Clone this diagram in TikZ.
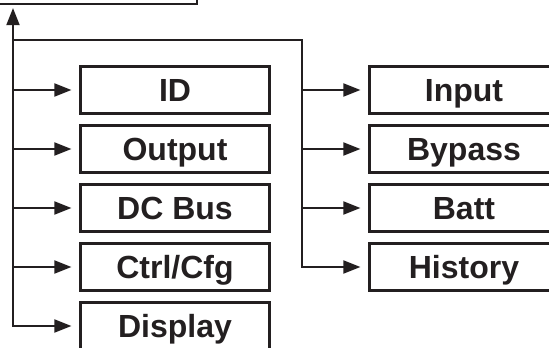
\documentclass[tikz,border=0pt]{standalone}
\usepackage{fontspec}
\setmainfont{Liberation Sans}
\usetikzlibrary{arrows.meta}
\definecolor{ink}{HTML}{231F20}
\tikzset{
  menubox/.style={draw=ink, line width=2.2pt, minimum width=189pt, minimum height=47pt,
    inner sep=0pt, text=ink, font=\fontsize{32}{38}\selectfont\bfseries,
    text height=23pt, text depth=0pt},
  topbox/.style={draw=ink, line width=2.2pt, minimum width=227pt, minimum height=44pt, inner sep=0pt},
  conn/.style={draw=ink, line width=2pt, line join=miter},
  tip/.tip={Triangle[length=17pt, width=13pt]},
}
\begin{document}
\begin{tikzpicture}[x=1pt, y=-1pt]
\useasboundingbox (0,0) rectangle (549,348);
\clip (0,0) rectangle (549,348);
\node[topbox] (top) at (83.5,-18) {};
\coordinate (L) at (13,40);
\coordinate (R) at (302,40);
% left column
\node[menubox] (ID) at (175,90) {ID};
\node[menubox] (Output) at (175,149) {Output};
\node[menubox] (DCBus) at (175,208) {DC Bus};
\node[menubox] (Ctrl) at (175,267) {Ctrl/Cfg};
\node[menubox] (Display) at (175,326) {Display};
% right column
\node[menubox] (Input) at (464,90) {Input};
\node[menubox] (Bypass) at (464,149) {Bypass};
\node[menubox] (Batt) at (464,208) {Batt};
\node[menubox] (History) at (464,267) {History};
% trunk
\draw[conn, {tip}-{tip}, shorten <=8pt, shorten >=3pt] (Display.west) -| (top.south -| L);
\foreach \n in {ID,Output,DCBus,Ctrl}
  \draw[conn, -{tip}, shorten >=8pt] (L |- \n.west) -- (\n.west);
% right branch
\draw[conn, -{tip}, shorten >=8pt] (L) -| (R |- History.west) -- (History.west);
\foreach \n in {Input,Bypass,Batt}
  \draw[conn, -{tip}, shorten >=8pt] (R |- \n.west) -- (\n.west);
\end{tikzpicture}
\end{document}
